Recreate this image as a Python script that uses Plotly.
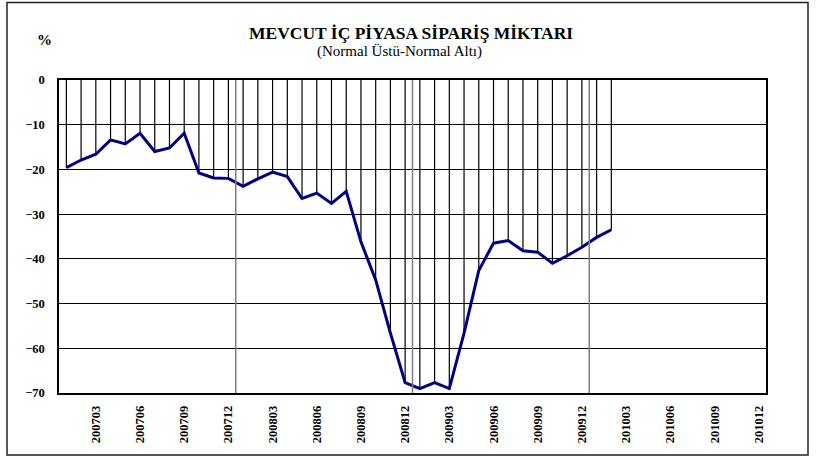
import plotly.graph_objects as go

# monthly periods 200701 .. 201012
periods = [f"{y}{m:02d}" for y in (2007, 2008, 2009, 2010) for m in range(1, 13)]

# order volume balance (above normal - below normal), %, 200701 .. 201002
values = [-19.6, -17.9, -16.6, -13.4, -14.3, -11.9, -16.0, -15.2, -11.9, -20.8,
          -21.9, -22.0, -23.8, -22.1, -20.6, -21.6, -26.5, -25.3, -27.6, -24.9,
          -36.2, -44.7, -56.6, -67.7, -69.0, -67.7, -69.0, -56.6, -42.6, -36.5,
          -35.9, -38.2, -38.5, -41.0, -39.3, -37.4, -35.2, -33.5]

tick_labels = periods[2::3]

xs = list(range(len(values)))

# drop lines from 0 down to each point
drop_x, drop_y = [], []
for i, v in zip(xs, values):
    drop_x += [i, i, None]
    drop_y += [0, v, None]

fig = go.Figure()
fig.add_trace(go.Scatter(x=drop_x, y=drop_y, mode='lines',
                         line=dict(color='black', width=1.2), hoverinfo='skip'))
fig.add_trace(go.Scatter(x=xs, y=values, mode='lines',
                         line=dict(color='#000080', width=3)))

L, R, T, B = 59, 766, 80, 393
W, H = R - L, B - T

def px(x):
    return (x - L) / W

def py(y):
    return (B - y) / H

# year separators (gray vertical grid)
for k in (12, 24, 36):
    fig.add_shape(type='line', xref='x', yref='paper', x0=k - 0.5, x1=k - 0.5,
                  y0=0, y1=1, line=dict(color='#808080', width=1.5), layer='above')

# outer frame
fig.add_shape(type='rect', xref='paper', yref='paper',
              x0=px(7), x1=px(808), y0=py(455), y1=py(2.5),
              line=dict(color='#222222', width=1.5))

serif = 'Liberation Serif'
fig.add_annotation(text='<b>MEVCUT İÇ PİYASA SİPARİŞ MİKTARI</b>', xref='paper', yref='paper',
                   x=px(411), y=py(33), xanchor='center', yanchor='middle', showarrow=False,
                   font=dict(family=serif, size=17.5, color='black'))
fig.add_annotation(text='(Normal Üstü-Normal Altı)', xref='paper', yref='paper',
                   x=px(399), y=py(52), xanchor='center', yanchor='middle', showarrow=False,
                   font=dict(family=serif, size=15, color='black'))
fig.add_annotation(text='<b>%</b>', xref='paper', yref='paper',
                   x=px(44), y=py(40), xanchor='center', yanchor='middle', showarrow=False,
                   font=dict(family=serif, size=15, color='black'))

fig.update_layout(
    width=820, height=462,
    margin=dict(l=L, r=820 - R, t=T, b=462 - B),
    paper_bgcolor='white', plot_bgcolor='white',
    showlegend=False,
    xaxis=dict(range=[-0.5, len(periods) - 0.5],
               tickvals=list(range(2, len(periods), 3)), ticktext=tick_labels,
               tickangle=-90, showgrid=False, zeroline=False, ticks='',
               ticklabelstandoff=6,
               showline=True, linecolor='black', linewidth=1.5, mirror=True,
               tickfont=dict(family=serif, size=12.5, color='black', weight='bold')),
    yaxis=dict(range=[-70, 0], dtick=10, showgrid=True, gridcolor='black', gridwidth=1,
               zeroline=False, ticks='', ticklabelstandoff=10,
               showline=True, linecolor='black', linewidth=1.5, mirror=True,
               tickfont=dict(family=serif, size=12.5, color='black', weight='bold')),
)

fig.write_html("out.html", config={'displayModeBar': False},
               post_script="document.body.style.margin='0';")
